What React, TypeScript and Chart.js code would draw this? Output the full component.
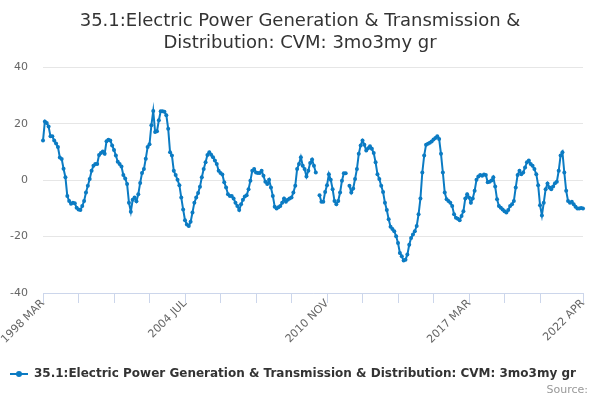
// @ts-nocheck
import React, { useEffect, useRef } from "react";
import { Chart, registerables } from "chart.js";

Chart.register(...registerables);

const seriesName =
    "35.1:Electric Power Generation & Transmission & Distribution: CVM: 3mo3my gr";
const titleLines = [
    "35.1:Electric Power Generation & Transmission &",
    "Distribution: CVM: 3mo3my gr",
];

// monthly values, 1998 MAR .. 2004 JUN
const values1998 = [
    14.0, 20.8, 20.2, 19.0, 15.5, 15.5, 14.0, 13.0, 11.7, 8.0, 7.5, 4.0,
    1.0, -5.6, -7.4, -8.4, -8.0, -8.2, -9.8, -10.4, -10.6, -9.2, -7.4, -4.4,
    -2.0, 0.4, 3.3, 5.1, 5.7, 5.7, 8.9, 9.6, 10.1, 9.3, 13.8, 14.3,
    14.0, 12.3, 10.7, 8.7, 6.5, 5.7, 4.8, 1.8, 0.6, -1.4, -8.0, -11.2,
    -7.0, -6.2, -7.5, -5.0, -1.0, 2.5, 3.9, 7.6, 11.7, 12.7, 19.4, 24.5,
    17.0, 17.3, 21.2, 24.4, 24.4, 24.2, 23.0, 18.2, 9.9, 8.7, 3.3, 1.8,
    0.1, -1.8, -6.2, -10.4,
];
// 2004 JUL .. 2010 OCT
const values2004 = [
    -14.2, -15.7, -16.3, -14.8, -11.5, -8.0, -6.2, -4.6, -2.4, 1.0, 3.9, 6.3,
    8.9, 9.9, 9.0, 8.1, 6.9, 5.7, 3.3, 2.5, 2.0, -0.8, -2.6, -5.0,
    -5.6, -5.6, -6.5, -8.0, -9.2, -10.6, -8.6, -7.0, -5.8, -5.4, -3.2, -0.2,
    3.3, 3.9, 2.7, 2.5, 2.5, 3.3, 1.5, -0.6, -1.4, 0.1, -2.6, -5.6,
    -9.4, -10.1, -9.6, -9.2, -8.0, -6.5, -7.7, -7.0, -6.5, -6.2, -4.4, -2.0,
    3.9, 5.7, 8.1, 5.1, 3.9, 1.3, 3.3, 6.1, 7.3, 5.1, 2.7, null,
    -5.4, -7.7, -7.7, -4.2,
];
// 2010 NOV .. 2017 FEB
const values2010 = [
    -1.8, 2.1, 0.1, -3.2, -7.4, -8.6, -7.4, -4.4, -0.2, 2.4, 2.4, null,
    -2.0, -4.4, -3.0, 0.4, 3.9, 9.3, 12.3, 14.0, 12.5, 10.5, 11.3, 12.0,
    11.1, 9.6, 6.3, 2.1, 0.4, -2.0, -4.2, -8.0, -10.6, -13.9, -16.5, -17.3,
    -18.1, -19.9, -22.3, -25.8, -27.0, -28.5, -28.2, -26.4, -22.9, -20.5, -19.3, -18.1,
    -16.3, -12.1, -6.5, 2.7, 8.7, 12.5, 12.9, 13.2, 13.7, 14.4, 14.9, 15.5,
    14.6, 9.3, 2.7, -4.4, -6.8, -7.4, -8.0, -9.2, -12.1, -13.3, -13.7, -14.2,
    -12.7, -11.0, -6.5, -5.0,
];
// 2017 MAR .. 2022 APR
const values2017 = [
    -6.2, -8.0, -6.5, -3.8, 0.1, 1.3, 1.8, 1.5, 2.0, 1.8, -0.8, -0.6,
    -0.1, 1.0, -2.3, -6.8, -9.2, -9.8, -10.4, -11.0, -11.5, -10.6, -9.2, -8.6,
    -7.4, -2.6, 1.8, 3.3, 2.1, 2.7, 4.5, 6.3, 6.9, 5.7, 5.1, 3.9,
    2.1, -1.8, -8.9, -12.5, -8.0, -3.2, -1.2, -2.6, -3.2, -2.3, -1.1, -0.6,
    3.3, 8.7, 9.9, 2.7, -3.8, -7.4, -8.0, -7.7, -8.6, -9.4, -10.1, -10.1,
    -9.9, -10.1,
];

const monthNames = ["JAN", "FEB", "MAR", "APR", "MAY", "JUN", "JUL", "AUG", "SEP", "OCT", "NOV", "DEC"];
const startYear = 1998;
const startMonth = 2; // MAR

const shownLabels = ["1998 MAR", "2004 JUL", "2010 NOV", "2017 MAR", "2022 APR"];
const yTicks = [-40, -20, 0, 20, 40];

const lineColor = "#0b7bc3";
const font = "'DejaVu Sans', sans-serif";

const App: React.FC = () => {
    const canvasRef = useRef(null);
    const chartRef = useRef(null);

    useEffect(() => {
        if (!canvasRef.current) return;
        if (chartRef.current) chartRef.current.destroy();

        const values = [...values1998, ...values2004, ...values2010, ...values2017];
        const labels = values.map((_, i) => {
            const m = startMonth + i;
            return `${startYear + Math.floor(m / 12)} ${monthNames[m % 12]}`;
        });
        const last = labels.length - 1;
        const tickIdx = [];
        for (let i = 0; i < last - 19; i += 19) tickIdx.push(i);
        tickIdx.push(last);

        // legend symbol: short line with a dot
        const sym = document.createElement("canvas");
        sym.width = 18;
        sym.height = 10;
        const sctx = sym.getContext("2d");
        sctx.strokeStyle = lineColor;
        sctx.lineWidth = 2;
        sctx.beginPath();
        sctx.moveTo(0, 5);
        sctx.lineTo(18, 5);
        sctx.stroke();
        sctx.fillStyle = lineColor;
        sctx.beginPath();
        sctx.arc(9, 5, 3, 0, Math.PI * 2);
        sctx.fill();

        const sourcePlugin = {
            id: "sourceText",
            afterDraw(chart) {
                const c = chart.ctx;
                c.save();
                c.font = `11px ${font}`;
                c.fillStyle = "#999999";
                c.textAlign = "right";
                c.textBaseline = "middle";
                c.fillText("Source:", 588, 390);
                c.restore();
            },
        };

        chartRef.current = new Chart(canvasRef.current, {
            type: "line",
            data: {
                labels,
                datasets: [
                    {
                        label: seriesName,
                        data: values,
                        borderColor: lineColor,
                        backgroundColor: lineColor,
                        borderWidth: 2,
                        pointRadius: 2,
                        pointBorderWidth: 0,
                        pointBackgroundColor: lineColor,
                        spanGaps: false,
                        tension: 0,
                    },
                ],
            },
            options: {
                animation: false,
                responsive: true,
                maintainAspectRatio: false,
                layout: { padding: { left: 0, right: 0, top: 0, bottom: 10 } },
                plugins: {
                    title: {
                        display: true,
                        text: titleLines,
                        color: "#333333",
                        font: { family: font, size: 18, weight: "normal", lineHeight: 1.2 },
                        padding: { top: 11, bottom: 13 },
                    },
                    legend: {
                        position: "bottom",
                        align: "start",
                        labels: {
                            usePointStyle: true,
                            pointStyleWidth: 18,
                            color: "#333333",
                            font: { family: font, size: 12, weight: "bold" },
                            padding: 10,
                            generateLabels: () => [
                                {
                                    text: seriesName,
                                    fillStyle: lineColor,
                                    strokeStyle: lineColor,
                                    lineWidth: 0,
                                    pointStyle: sym,
                                    hidden: false,
                                    datasetIndex: 0,
                                    fontColor: "#333333",
                                },
                            ],
                        },
                    },
                    tooltip: { enabled: false },
                },
                scales: {
                    x: {
                        type: "category",
                        offset: false,
                        afterBuildTicks: (scale) => {
                            scale.ticks = tickIdx.map((v) => ({ value: v }));
                        },
                        afterFit: (scale) => {
                            scale.height = 65;
                        },
                        grid: {
                            drawOnChartArea: false,
                            drawTicks: true,
                            tickLength: 10,
                            tickColor: "#ccd6eb",
                            tickWidth: 1,
                        },
                        border: { display: true, color: "#ccd6eb", width: 1 },
                        ticks: {
                            autoSkip: false,
                            minRotation: 45,
                            maxRotation: 45,
                            padding: -6,
                            color: "#666666",
                            font: { family: font, size: 11 },
                            callback: function (value) {
                                const l = this.getLabelForValue(value);
                                return shownLabels.includes(l) ? l : "";
                            },
                        },
                    },
                    y: {
                        min: -40,
                        max: 40,
                        afterBuildTicks: (scale) => {
                            scale.ticks = yTicks.map((v) => ({ value: v }));
                        },
                        afterFit: (scale) => {
                            scale.width = 43;
                        },
                        grid: { color: "#e6e6e6", drawTicks: false },
                        border: { display: false },
                        ticks: {
                            padding: 15,
                            color: "#666666",
                            font: { family: font, size: 11 },
                        },
                    },
                    // empty right margin so the title stays centred on the page
                    spacer: {
                        type: "linear",
                        position: "right",
                        afterFit: (scale) => {
                            scale.width = 17;
                        },
                        grid: { display: false },
                        border: { display: false },
                        ticks: { display: false },
                    },
                },
            },
            plugins: [sourcePlugin],
        });

        return () => {
            if (chartRef.current) {
                chartRef.current.destroy();
                chartRef.current = null;
            }
        };
    }, []);

    return (
        <div style={{ position: "absolute", left: 0, top: 0, width: 600, height: 400, background: "#fff" }}>
            <canvas ref={canvasRef} />
        </div>
    );
};

export default App;
